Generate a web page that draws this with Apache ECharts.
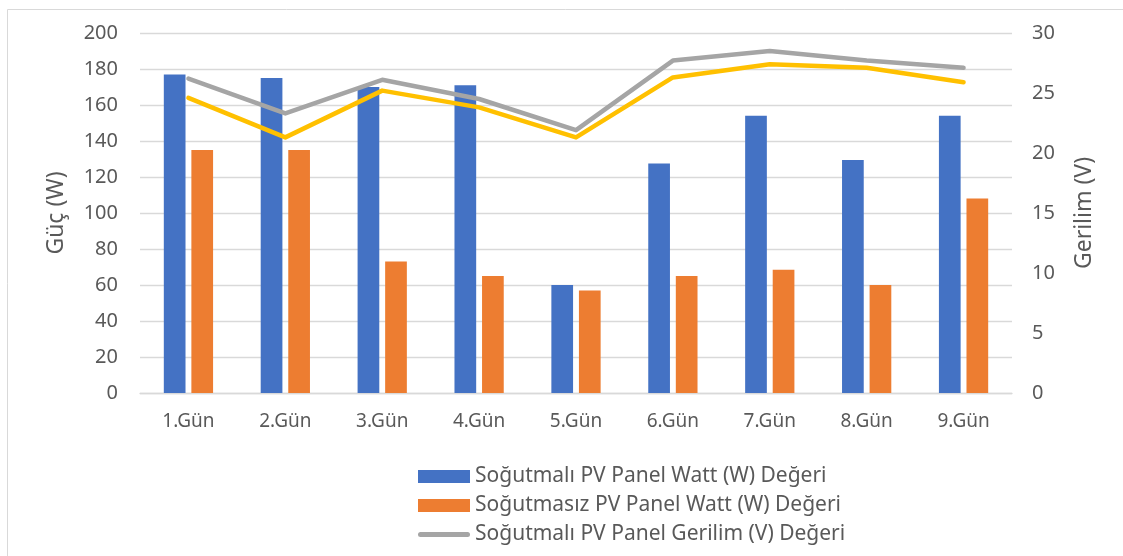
<!DOCTYPE html>
<html>
<head>
<meta charset="utf-8">
<script src="https://cdn.jsdelivr.net/npm/echarts@6/dist/echarts.min.js"></script>
<style>
html, body { margin: 0; padding: 0; background: #fff; }
#main { width: 1123px; height: 556px; }
</style>
</head>
<body>
<div id="main"></div>
<script>
// gün kategorileri
var days = ['1.Gün', '2.Gün', '3.Gün', '4.Gün', '5.Gün', '6.Gün', '7.Gün', '8.Gün', '9.Gün'];
// güç değerleri (W)
var wattCooled = [177, 175, 170, 171, 60, 127.5, 154, 129.5, 154];
var wattUncooled = [135, 135, 73, 65, 57, 65, 68.5, 60, 108];
// gerilim değerleri (V)
var voltCooled = [26.2, 23.3, 26.1, 24.5, 21.9, 27.7, 28.5, 27.7, 27.1];
var voltUncooled = [24.6, 21.3, 25.2, 23.8, 21.3, 26.3, 27.4, 27.1, 25.9];

var names = [
    'Soğutmalı PV Panel Watt (W) Değeri',
    'Soğutmasız PV Panel Watt (W) Değeri',
    'Soğutmalı PV Panel Gerilim (V) Değeri',
    'Soğutmasız PV Panel Gerilim (V) Değeri'
];

var txt = '#595959';
var font = 'Noto Sans';
// legend'daki çizgi ikonu (yuvarlak uçlu kalın çizgi)
var lineIcon = 'path://M2.5,0 L49.5,0 A2.5,2.5 0 0 1 49.5,5 L2.5,5 A2.5,2.5 0 0 1 2.5,0 Z';

var option = {
    animation: false,
    textStyle: { fontFamily: font },
    graphic: [{
        type: 'rect',
        shape: { x: 7.5, y: 9.5, width: 1300, height: 700 },
        style: { fill: 'none', stroke: '#d9d9d9', lineWidth: 1 },
        silent: true
    }],
    grid: { left: 140, right: 111, top: 33, bottom: 163 },
    legend: {
        data: [
            { name: names[0], icon: 'rect' },
            { name: names[1], icon: 'rect' },
            { name: names[2], icon: lineIcon }
        ],
        orient: 'vertical',
        left: 413,
        top: 461,
        height: 120,
        itemWidth: 52,
        itemHeight: 13,
        itemGap: 8,
        textStyle: { color: txt, fontSize: 21, fontFamily: font }
    },
    xAxis: {
        type: 'category',
        data: days,
        axisLine: { lineStyle: { color: '#d9d9d9', width: 1.3 } },
        axisTick: { show: false },
        axisLabel: { color: txt, fontSize: 19, margin: 19 }
    },
    yAxis: [{
        type: 'value',
        min: 0, max: 200, interval: 20,
        name: 'Güç (W)',
        nameLocation: 'middle',
        nameGap: 72,
        nameTextStyle: { color: txt, fontSize: 23 },
        axisLabel: { color: txt, fontSize: 20, margin: 22 },
        splitLine: { lineStyle: { color: '#d9d9d9', width: 1.3 } }
    }, {
        type: 'value',
        min: 0, max: 30, interval: 5,
        name: 'Gerilim (V)',
        nameLocation: 'middle',
        nameGap: 61,
        nameTextStyle: { color: txt, fontSize: 23 },
        axisLabel: { color: txt, fontSize: 20, margin: 20 },
        splitLine: { show: false }
    }],
    series: [{
        name: names[0],
        type: 'bar',
        data: wattCooled,
        barWidth: '22.4%',
        barGap: '27%',
        itemStyle: { color: '#4472C4' }
    }, {
        name: names[1],
        type: 'bar',
        data: wattUncooled,
        barWidth: '22.4%',
        itemStyle: { color: '#ED7D31' }
    }, {
        name: names[2],
        type: 'line',
        yAxisIndex: 1,
        data: voltCooled,
        symbol: 'none',
        color: '#A5A5A5',
        lineStyle: { color: '#A5A5A5', width: 4.5, cap: 'round', join: 'round' }
    }, {
        name: names[3],
        type: 'line',
        yAxisIndex: 1,
        data: voltUncooled,
        symbol: 'none',
        color: '#FFC000',
        lineStyle: { color: '#FFC000', width: 4.5, cap: 'round', join: 'round' }
    }]
};

var myChart = echarts.init(document.getElementById('main'));
myChart.setOption(option);
</script>
</body>
</html>
